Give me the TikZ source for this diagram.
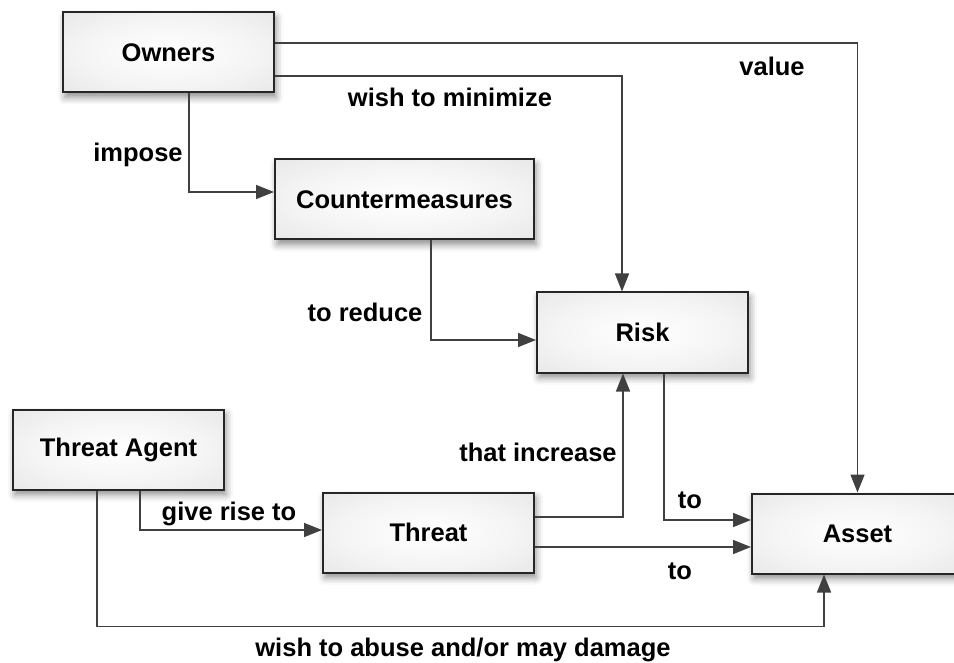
\documentclass[tikz,border=0pt]{standalone}
\usepackage{fontspec}
\setmainfont{Liberation Sans}
\usetikzlibrary{arrows.meta,shadows.blur}

% soft fill: white centre fading to light grey at the border
\pgfdeclareradialshading{boxshade}{\pgfpoint{0bp}{0bp}}{%
  color(0bp)=(white); color(20bp)=(white!96!black); color(48bp)=(black!13); color(71bp)=(black!20)}

\begin{document}
\begin{tikzpicture}[x=1pt,y=-1pt,
  every node/.style={font=\fontsize{25.5}{30}\selectfont\bfseries, text=black},
  entity/.style={draw=black!85, line width=2pt, shading=boxshade,
    minimum width=211pt, minimum height=80pt, inner sep=0pt,
    blur shadow={shadow xshift=2pt, shadow yshift=-5pt, shadow blur radius=7pt, shadow opacity=45}},
  link/.style={draw=black!75, line width=1.5pt, -{Triangle[length=18pt,width=14pt]}},
  lbl/.style={inner sep=0pt}
]
\useasboundingbox (0,0) rectangle (954,663);

% entities
\node[entity] (owners)  at (168.5,52.5)  {Owners};
\node[entity, minimum width=259pt] (counter) at (404.5,199.5) {Countermeasures};
\node[entity] (risk)    at (642.5,332.5) {Risk};
\node[entity] (agent)   at (118.5,449.5) {Threat Agent};
\node[entity] (threat)  at (428.5,532.5) {Threat};
\node[entity] (asset)   at (857.5,533.5) {Asset};

% relations
\draw[link] ([xshift=20.5pt]owners.south) |- ([yshift=7.5pt]counter.west);
\draw[link] ([yshift=-23.5pt]owners.east) -| ([xshift=-20.5pt]risk.north);
\draw[link] ([yshift=9.5pt]owners.east) -| (asset.north);
\draw[link] ([xshift=26.5pt]counter.south) |- ([yshift=-7.5pt]risk.west);
\draw[link] ([xshift=21.5pt]agent.south) |- ([yshift=2.5pt]threat.west);
\draw[link] ([xshift=-21.5pt]agent.south) -- ++(0,136) -| ([xshift=-33.5pt]asset.south);
\draw[link] ([yshift=15.5pt]threat.east) -| ([xshift=-19.5pt]risk.south);
\draw[link] ([xshift=21.5pt]risk.south) |- ([yshift=13.5pt]asset.west);
\draw[link] ([yshift=-14.5pt]threat.east) coordinate (t) -- (t -| asset.west);

% relation labels
\node[lbl] (limpose)   at (138,155) {impose};
\node[lbl] (lminimize) at (450,97)  {wish to minimize};
\node[lbl] (lvalue)    at (772,66)  {value};
\node[lbl] (lreduce)   at (365,312) {to reduce};
\node[lbl] (lincrease) at (538,452) {that increase};
\node[lbl] (lto1)      at (690,500) {to};
\node[lbl] (lto2)      at (680,571) {to};
\node[lbl] (lrise)     at (229,514) {give rise to};
\node[lbl] (labuse)    at (463,650) {wish to abuse and/or may damage};
\end{tikzpicture}
\end{document}
